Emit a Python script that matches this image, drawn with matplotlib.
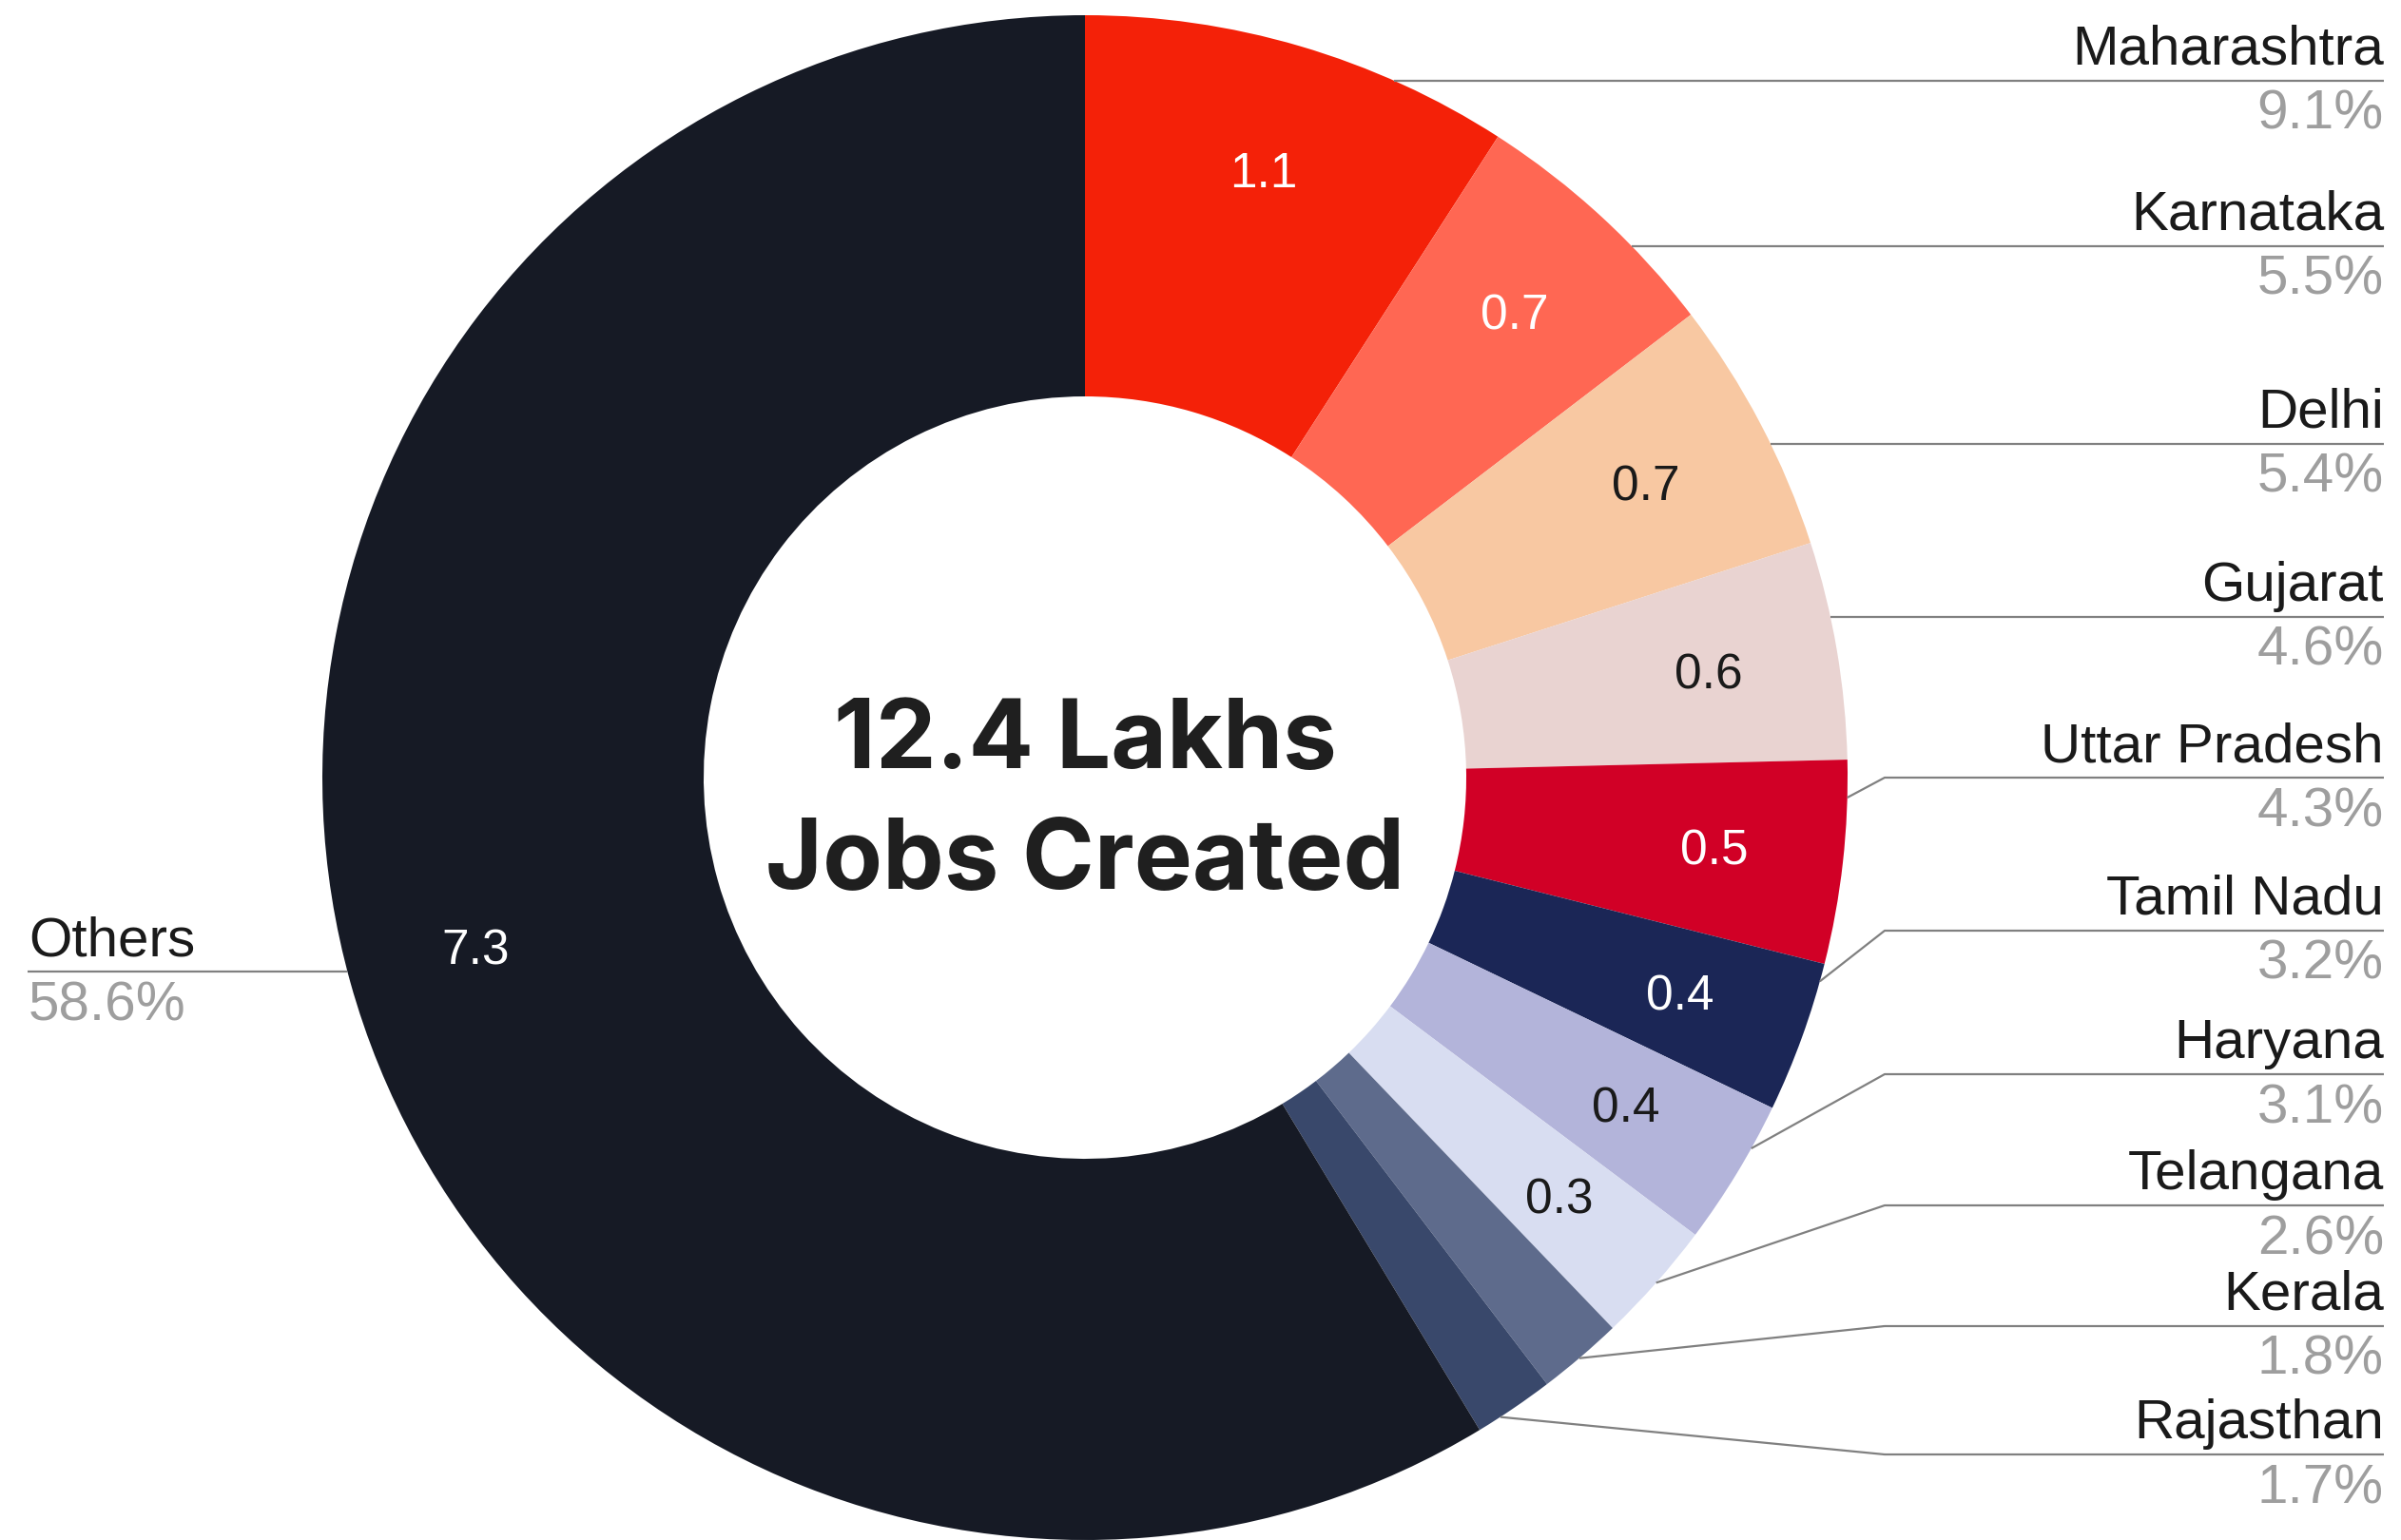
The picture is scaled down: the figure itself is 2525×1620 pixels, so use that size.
import numpy as np
from matplotlib import pyplot as plt

states = ["Maharashtra", "Karnataka", "Delhi", "Gujarat", "Uttar Pradesh",
          "Tamil Nadu", "Haryana", "Telangana", "Kerala", "Rajasthan", "Others"]
share = [9.1, 5.5, 5.4, 4.6, 4.3, 3.2, 3.1, 2.6, 1.8, 1.7, 58.6]
jobs_lakh = ["1.1", "0.7", "0.7", "0.6", "0.5", "0.4", "0.4", "0.3", "", "", "7.3"]
colors = ["#F42108", "#FF6753", "#F8C8A2", "#E9D3D1", "#D10026", "#1B2656",
          "#B3B4DA", "#D8DDF1", "#5E6B8C", "#39486B", "#161A25"]
value_color = ["white", "white", "#1a1a1a", "#1a1a1a", "white", "white",
               "#1a1a1a", "#1a1a1a", "white", "white", "white"]

# label line heights (pixels from top) for the right-hand column
label_y = [85, 259, 467, 649, 818, 979, 1130, 1268, 1395, 1530]
# where the bent leader lines touch the ring (degrees), None = straight line
anchor_deg = [None, None, None, None, -1.5, -15.5, -29.1, -41.5, -49.6, -57.0]
others_y = 1022

W, H = 2525, 1620
cx, cy, R = 1141, 802, 802
elbow_x, right_x = 1982, 2507

plt.rcParams['font.family'] = ['Liberation Sans', 'DejaVu Sans']
fig = plt.figure(figsize=(W / 100, H / 100), dpi=100)
ax = fig.add_axes([0, 0, 1, 1])

wedges, _ = ax.pie(share, colors=colors, radius=R, center=(cx, cy), startangle=90,
                   counterclock=False, wedgeprops=dict(width=R * 0.5, linewidth=0))

for w, val, tc in zip(wedges, jobs_lakh, value_color):
    if not val:
        continue
    mid = np.deg2rad((w.theta1 + w.theta2) / 2)
    ax.text(cx + 0.83 * R * np.cos(mid), cy + 0.83 * R * np.sin(mid) - 4, val,
            color=tc, fontsize=37, ha='center', va='center')

line_kw = dict(color="#808080", lw=1.6, solid_capstyle='butt')
for i, name in enumerate(states[:-1]):
    ly = H - label_y[i]
    if anchor_deg[i] is None:
        x0 = cx + np.sqrt(R ** 2 - (ly - cy) ** 2)
        ax.plot([x0, right_x], [ly, ly], **line_kw)
    else:
        a = np.deg2rad(anchor_deg[i])
        ax.plot([cx + R * np.cos(a), elbow_x, right_x],
                [cy + R * np.sin(a), ly, ly], **line_kw)
    ax.text(right_x, ly + 17, name, fontsize=42, color="#1a1a1a",
            ha='right', va='baseline')
    ax.text(right_x, ly - 9, f"{share[i]}%", fontsize=42, color="#9E9E9E",
            ha='right', va='top')

# Others on the left
oy = H - others_y
ox = cx - np.sqrt(R ** 2 - (oy - cy) ** 2)
ax.plot([29, ox], [oy, oy], **line_kw)
ax.text(30, oy + 17, states[-1], fontsize=42, color="#1a1a1a", ha='left', va='baseline')
ax.text(30, oy - 9, f"{share[-1]}%", fontsize=42, color="#9E9E9E", ha='left', va='top')

ax.text(cx, H - 808, "12.4 Lakhs", fontsize=73, fontweight='bold', family='Inter',
        color="#1F1F1F", ha='center', va='baseline')
ax.text(cx, H - 935, "Jobs Created", fontsize=74, fontweight='bold', family='Inter',
        color="#1F1F1F", ha='center', va='baseline')

ax.set_xlim(0, W)
ax.set_ylim(0, H)
ax.axis('off')
fig.savefig("out.png", dpi=100, facecolor="white")
